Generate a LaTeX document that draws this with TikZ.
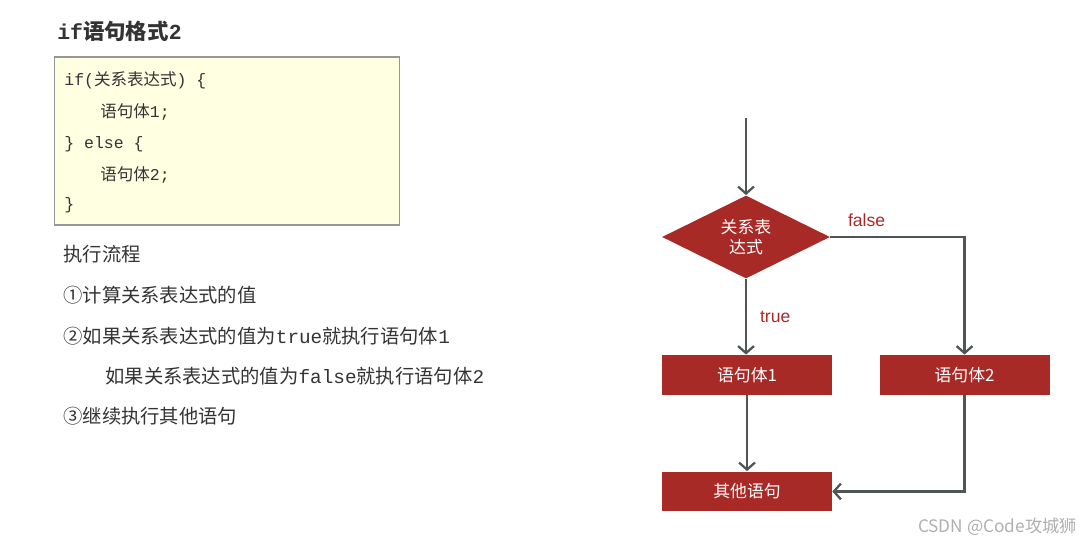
\documentclass[tikz,border=0pt]{standalone}
\usepackage{fontspec}
\setmainfont{Liberation Sans}
\newfontfamily\cjk{Noto Sans CJK SC}
\newfontfamily\mono{Liberation Mono}
\usetikzlibrary{shapes.geometric,arrows.meta,positioning}

\newcommand{\zh}[1]{{\cjk #1}}
\newcommand{\cd}[1]{{\mono #1}}

\definecolor{boxred}{RGB}{168,42,39}
\definecolor{linegray}{RGB}{80,85,86}
\definecolor{codebg}{RGB}{255,255,226}
\definecolor{codeframe}{RGB}{150,150,150}
\definecolor{txt}{RGB}{51,51,51}
\definecolor{mark}{RGB}{175,175,175}

\tikzset{
  flowbox/.style={fill=boxred,text=white,minimum width=3.4cm,minimum height=0.8cm,
    inner sep=0pt,font=\cjk\fontsize{9.6}{11}\selectfont},
  decision/.style={diamond,aspect=2,fill=boxred,text=white,inner sep=0pt,
    minimum width=3.36cm,minimum height=1.66cm,align=center,
    font=\cjk\fontsize{9.6}{11.3}\selectfont},
  flowline/.style={draw=linegray,line width=1.3pt,-{Straight Barb[length=4pt,width=9pt]}},
  branch/.style={text=boxred,font=\fontsize{10}{12}\selectfont},
  codeline/.style={anchor=west,inner sep=0pt,text=txt,font=\fontsize{9.4}{11}\selectfont},
  stepline/.style={anchor=west,inner sep=0pt,text=txt,font=\cjk\fontsize{11}{13}\selectfont},
}

\begin{document}
\begin{tikzpicture}[x=0.02cm,y=-0.02cm]
\useasboundingbox (0,0) rectangle (1091,546);

% left: format and steps
\node[anchor=west,inner sep=0pt,text=txt,font=\bfseries\fontsize{12.2}{14}\selectfont] (title) at (57,31)
  {\cd{if}\zh{语句格式}\cd{2}};
\node[draw=codeframe,fill=codebg,line width=0.6pt,minimum width=6.92cm,minimum height=3.36cm] (codebox) at (227,141) {};
\node[codeline] (c1) at (64,80) {\cd{if(}\zh{关系表达式}\cd{) \{}};
\node[codeline] (c2) at (100,112) {\zh{语句体}\cd{1;}};
\node[codeline] (c3) at (64,144) {\cd{\} else \{}};
\node[codeline] (c4) at (100,175) {\zh{语句体}\cd{2;}};
\node[codeline] (c5) at (64,205) {\cd{\}}};

\node[stepline] (s0) at (63,254) {执行流程};
\node[stepline] (s1) at (63,295) {①计算关系表达式的值};
\node[stepline] (s2) at (63,336) {②如果关系表达式的值为\cd{true}就执行语句体\cd{1}};
\node[stepline] (s3) at (105,376) {如果关系表达式的值为\cd{false}就执行语句体\cd{2}};
\node[stepline] (s4) at (63,416) {③继续执行其他语句};

% right: flow chart
\coordinate (start) at (746,118);
\node[decision] (cond) at (746,237) {关系表\\达式};
\node[flowbox] (stmt1) at (747,375) {语句体1};
\node[flowbox] (stmt2) at (964.5,375) {语句体2};
\node[flowbox] (other) at (747,491.5) {其他语句};

\draw[flowline] (start) -- (cond);
\draw[flowline] (cond.south) -- node[branch,right=4pt] {true} (cond.south |- stmt1.north);
\draw[flowline] (cond.east) -- node[branch,above=2pt,pos=0.27] {false} (stmt2.north |- cond.east) -- (stmt2.north);
\draw[flowline] (stmt1.south) -- (stmt1.south |- other.north);
\draw[flowline] (stmt2.south) |- (other.east);

\node[anchor=east,inner sep=0pt,text=mark,font=\cjk\fontsize{9.8}{11}\selectfont] (wm) at (1077,527) {CSDN @Code攻城狮};
\end{tikzpicture}
\end{document}
